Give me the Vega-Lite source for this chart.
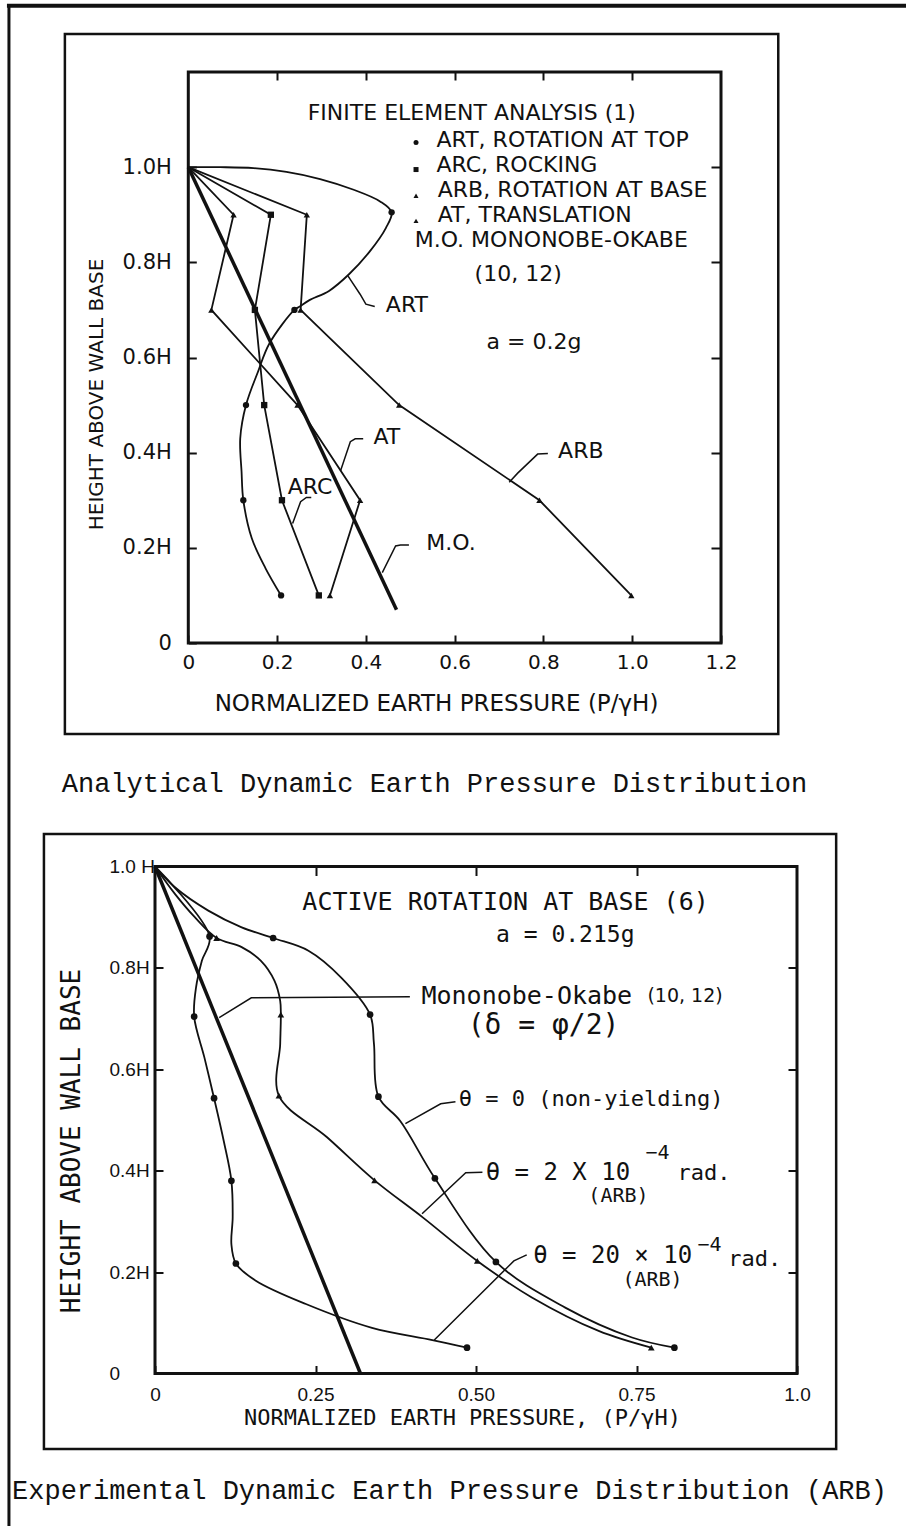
{
 "$schema": "https://vega.github.io/schema/vega-lite/v6.json",
 "background": "white",
 "padding": {"left": 6, "top": 3, "right": 0, "bottom": 0},
 "spacing": 223.5,
 "bounds": "flush",
 "resolve": {"scale": {"shape": "independent"}},
 "config": {
  "view": {"stroke": null},
  "font": "DejaVu Sans",
  "axis": {"grid": false, "domain": false, "tickColor": "#111", "tickWidth": 2, "labelColor": "#111", "titleColor": "#111", "titleFontWeight": "normal", "labelFlush": false, "labelOverlap": false, "labelBound": false}
 },
 "datasets": {
  "t_frametop": [{"x": -0.404, "x2": 1.619, "y": 1.339, "y2": 1.339}],
  "t_frameleft": [{"x": -0.404, "x2": -0.404, "y": 1.339, "y2": -1.866}],
  "t_outer": [{"x": -0.278, "x2": 1.329, "y": -0.191, "y2": 1.28}],
  "t_box": [{"x": 0, "x2": 1.2, "y": 0, "y2": 1.2}],
  "t_art": [
   {"s": "ART", "x": 0, "y": 1.0}, {"s": "ART", "x": 0.072, "y": 1.0}, {"s": "ART", "x": 0.147, "y": 0.998}, {"s": "ART", "x": 0.221, "y": 0.99},
   {"s": "ART", "x": 0.297, "y": 0.975}, {"s": "ART", "x": 0.371, "y": 0.953}, {"s": "ART", "x": 0.432, "y": 0.928}, {"s": "ART", "x": 0.458, "y": 0.905},
   {"s": "ART", "x": 0.445, "y": 0.872}, {"s": "ART", "x": 0.408, "y": 0.822}, {"s": "ART", "x": 0.362, "y": 0.775}, {"s": "ART", "x": 0.317, "y": 0.74},
   {"s": "ART", "x": 0.272, "y": 0.72}, {"s": "ART", "x": 0.251, "y": 0.707}, {"s": "ART", "x": 0.239, "y": 0.7}, {"s": "ART", "x": 0.183, "y": 0.63},
   {"s": "ART", "x": 0.157, "y": 0.57}, {"s": "ART", "x": 0.13, "y": 0.5}, {"s": "ART", "x": 0.117, "y": 0.43}, {"s": "ART", "x": 0.12, "y": 0.36},
   {"s": "ART", "x": 0.124, "y": 0.3}, {"s": "ART", "x": 0.143, "y": 0.22}, {"s": "ART", "x": 0.174, "y": 0.157}, {"s": "ART", "x": 0.209, "y": 0.1}
  ],
  "t_poly": [
   {"s": "ARC", "x": 0, "y": 1}, {"s": "ARC", "x": 0.186, "y": 0.9}, {"s": "ARC", "x": 0.15, "y": 0.7}, {"s": "ARC", "x": 0.171, "y": 0.5}, {"s": "ARC", "x": 0.211, "y": 0.3}, {"s": "ARC", "x": 0.294, "y": 0.1},
   {"s": "AT", "x": 0, "y": 1}, {"s": "AT", "x": 0.102, "y": 0.9}, {"s": "AT", "x": 0.052, "y": 0.7}, {"s": "AT", "x": 0.246, "y": 0.5}, {"s": "AT", "x": 0.387, "y": 0.3}, {"s": "AT", "x": 0.319, "y": 0.1},
   {"s": "ARB", "x": 0, "y": 1}, {"s": "ARB", "x": 0.267, "y": 0.9}, {"s": "ARB", "x": 0.253, "y": 0.7}, {"s": "ARB", "x": 0.475, "y": 0.5}, {"s": "ARB", "x": 0.791, "y": 0.3}, {"s": "ARB", "x": 0.998, "y": 0.1}
  ],
  "t_mo": [{"s": "M.O.", "x": 0, "y": 1}, {"s": "M.O.", "x": 0.469, "y": 0.07}],
  "t_marks": [
   {"s": "ART", "x": 0.458, "y": 0.905}, {"s": "ART", "x": 0.239, "y": 0.7}, {"s": "ART", "x": 0.13, "y": 0.5}, {"s": "ART", "x": 0.124, "y": 0.3}, {"s": "ART", "x": 0.209, "y": 0.1},
   {"s": "ARC", "x": 0.186, "y": 0.9}, {"s": "ARC", "x": 0.15, "y": 0.7}, {"s": "ARC", "x": 0.171, "y": 0.5}, {"s": "ARC", "x": 0.211, "y": 0.3}, {"s": "ARC", "x": 0.294, "y": 0.1},
   {"s": "AT", "x": 0.102, "y": 0.9}, {"s": "AT", "x": 0.052, "y": 0.7}, {"s": "AT", "x": 0.246, "y": 0.5}, {"s": "AT", "x": 0.387, "y": 0.3}, {"s": "AT", "x": 0.319, "y": 0.1},
   {"s": "ARB", "x": 0.267, "y": 0.9}, {"s": "ARB", "x": 0.253, "y": 0.7}, {"s": "ARB", "x": 0.475, "y": 0.5}, {"s": "ARB", "x": 0.791, "y": 0.3}, {"s": "ARB", "x": 0.998, "y": 0.1}
  ],
  "t_legmarks": [{"s": "ART", "x": 0.513, "y": 1.052}, {"s": "ARC", "x": 0.513, "y": 0.995}, {"s": "ARB", "x": 0.513, "y": 0.94}, {"s": "AT", "x": 0.513, "y": 0.887}],
  "t_lead": [
   {"g": "ART", "x": 0.36, "y": 0.771}, {"g": "ART", "x": 0.387, "y": 0.733}, {"g": "ART", "x": 0.4, "y": 0.712}, {"g": "ART", "x": 0.42, "y": 0.707},
   {"g": "AT", "x": 0.343, "y": 0.362}, {"g": "AT", "x": 0.365, "y": 0.423}, {"g": "AT", "x": 0.376, "y": 0.429}, {"g": "AT", "x": 0.394, "y": 0.429},
   {"g": "ARC", "x": 0.235, "y": 0.251}, {"g": "ARC", "x": 0.253, "y": 0.297}, {"g": "ARC", "x": 0.266, "y": 0.306}, {"g": "ARC", "x": 0.277, "y": 0.306},
   {"g": "MO", "x": 0.437, "y": 0.148}, {"g": "MO", "x": 0.467, "y": 0.204}, {"g": "MO", "x": 0.478, "y": 0.206}, {"g": "MO", "x": 0.497, "y": 0.206},
   {"g": "ARB", "x": 0.723, "y": 0.338}, {"g": "ARB", "x": 0.742, "y": 0.357}, {"g": "ARB", "x": 0.787, "y": 0.397}, {"g": "ARB", "x": 0.81, "y": 0.398}
  ],
  "t_text": [
   {"x": 0.269, "y": 1.113, "t": "FINITE ELEMENT ANALYSIS (1)"},
   {"x": 0.559, "y": 1.058, "t": "ART, ROTATION AT TOP"},
   {"x": 0.559, "y": 1.005, "t": "ARC, ROCKING"},
   {"x": 0.562, "y": 0.951, "t": "ARB, ROTATION AT BASE"},
   {"x": 0.562, "y": 0.899, "t": "AT,  TRANSLATION"},
   {"x": 0.51, "y": 0.846, "t": "M.O. MONONOBE-OKABE"},
   {"x": 0.645, "y": 0.775, "t": "(10, 12)"},
   {"x": 0.672, "y": 0.633, "t": "a = 0.2g"},
   {"x": 0.445, "y": 0.711, "t": "ART"},
   {"x": 0.417, "y": 0.433, "t": "AT"},
   {"x": 0.224, "y": 0.328, "t": "ARC"},
   {"x": 0.536, "y": 0.211, "t": "M.O."},
   {"x": 0.833, "y": 0.404, "t": "ARB"}
  ],
  "t_caption": [{"x": -0.285, "y": -0.296, "t": "Analytical Dynamic Earth Pressure Distribution"}],
  "b_outer": [{"x": -0.173, "x2": 1.061, "y": -0.149, "y2": 1.064}],
  "b_box": [{"x": 0, "x2": 1, "y": 0, "y2": 1}],
  "b_curves": [
   {"s": "T0", "x": 0, "y": 1}, {"s": "T0", "x": 0.031, "y": 0.959}, {"s": "T0", "x": 0.083, "y": 0.913}, {"s": "T0", "x": 0.135, "y": 0.88}, {"s": "T0", "x": 0.184, "y": 0.859},
   {"s": "T0", "x": 0.239, "y": 0.834}, {"s": "T0", "x": 0.29, "y": 0.781}, {"s": "T0", "x": 0.335, "y": 0.708}, {"s": "T0", "x": 0.341, "y": 0.651}, {"s": "T0", "x": 0.348, "y": 0.546},
   {"s": "T0", "x": 0.382, "y": 0.498}, {"s": "T0", "x": 0.436, "y": 0.385}, {"s": "T0", "x": 0.531, "y": 0.22}, {"s": "T0", "x": 0.639, "y": 0.13}, {"s": "T0", "x": 0.743, "y": 0.071}, {"s": "T0", "x": 0.809, "y": 0.051},
   {"s": "T2", "x": 0, "y": 1}, {"s": "T2", "x": 0.031, "y": 0.946}, {"s": "T2", "x": 0.062, "y": 0.9}, {"s": "T2", "x": 0.096, "y": 0.859}, {"s": "T2", "x": 0.135, "y": 0.841},
   {"s": "T2", "x": 0.165, "y": 0.814}, {"s": "T2", "x": 0.186, "y": 0.775}, {"s": "T2", "x": 0.195, "y": 0.735}, {"s": "T2", "x": 0.196, "y": 0.708}, {"s": "T2", "x": 0.195, "y": 0.65},
   {"s": "T2", "x": 0.193, "y": 0.548}, {"s": "T2", "x": 0.268, "y": 0.466}, {"s": "T2", "x": 0.342, "y": 0.381}, {"s": "T2", "x": 0.417, "y": 0.308}, {"s": "T2", "x": 0.502, "y": 0.222},
   {"s": "T2", "x": 0.587, "y": 0.15}, {"s": "T2", "x": 0.691, "y": 0.084}, {"s": "T2", "x": 0.773, "y": 0.051},
   {"s": "T20", "x": 0, "y": 1}, {"s": "T20", "x": 0.085, "y": 0.862}, {"s": "T20", "x": 0.073, "y": 0.814}, {"s": "T20", "x": 0.064, "y": 0.762}, {"s": "T20", "x": 0.061, "y": 0.704},
   {"s": "T20", "x": 0.077, "y": 0.623}, {"s": "T20", "x": 0.092, "y": 0.543}, {"s": "T20", "x": 0.107, "y": 0.459}, {"s": "T20", "x": 0.119, "y": 0.38}, {"s": "T20", "x": 0.121, "y": 0.308},
   {"s": "T20", "x": 0.119, "y": 0.255}, {"s": "T20", "x": 0.126, "y": 0.217}, {"s": "T20", "x": 0.157, "y": 0.183}, {"s": "T20", "x": 0.235, "y": 0.137}, {"s": "T20", "x": 0.338, "y": 0.09},
   {"s": "T20", "x": 0.432, "y": 0.066}, {"s": "T20", "x": 0.486, "y": 0.051}
  ],
  "b_mo": [{"s": "MO", "x": 0, "y": 1}, {"s": "MO", "x": 0.32, "y": 0}],
  "b_marks": [
   {"s": "T0", "x": 0.184, "y": 0.859}, {"s": "T0", "x": 0.335, "y": 0.708}, {"s": "T0", "x": 0.348, "y": 0.546}, {"s": "T0", "x": 0.436, "y": 0.385}, {"s": "T0", "x": 0.531, "y": 0.22}, {"s": "T0", "x": 0.809, "y": 0.051},
   {"s": "T2", "x": 0.096, "y": 0.859}, {"s": "T2", "x": 0.196, "y": 0.708}, {"s": "T2", "x": 0.193, "y": 0.548}, {"s": "T2", "x": 0.342, "y": 0.381}, {"s": "T2", "x": 0.502, "y": 0.222}, {"s": "T2", "x": 0.773, "y": 0.051},
   {"s": "T20", "x": 0.085, "y": 0.862}, {"s": "T20", "x": 0.061, "y": 0.704}, {"s": "T20", "x": 0.092, "y": 0.543}, {"s": "T20", "x": 0.119, "y": 0.38}, {"s": "T20", "x": 0.126, "y": 0.217}, {"s": "T20", "x": 0.486, "y": 0.051}
  ],
  "b_lead": [
   {"g": "MO", "x": 0.1, "y": 0.702}, {"g": "MO", "x": 0.15, "y": 0.741}, {"g": "MO", "x": 0.397, "y": 0.743},
   {"g": "T0", "x": 0.39, "y": 0.493}, {"g": "T0", "x": 0.445, "y": 0.532}, {"g": "T0", "x": 0.468, "y": 0.536},
   {"g": "T2", "x": 0.416, "y": 0.315}, {"g": "T2", "x": 0.484, "y": 0.396}, {"g": "T2", "x": 0.51, "y": 0.397},
   {"g": "T20", "x": 0.435, "y": 0.066}, {"g": "T20", "x": 0.559, "y": 0.222}, {"g": "T20", "x": 0.579, "y": 0.234}
  ],
  "b_center25": [{"x": 0.546, "y": 0.929, "t": "ACTIVE ROTATION AT BASE (6)"}],
  "b_center23": [{"x": 0.639, "y": 0.864, "t": "a = 0.215g"}],
  "b_mono25": [{"x": 0.415, "y": 0.745, "t": "Mononobe-Okabe"}],
  "b_sans19": [{"x": 0.767, "y": 0.745, "t": "(10, 12)"}],
  "b_delta": [{"x": 0.487, "y": 0.686, "t": "(δ = φ/2)"}],
  "b_mono22": [
   {"x": 0.473, "y": 0.542, "t": "θ = 0 (non-yielding)"},
   {"x": 0.814, "y": 0.396, "t": "rad."},
   {"x": 0.893, "y": 0.226, "t": "rad."}
  ],
  "b_mono20": [
   {"x": 0.675, "y": 0.35, "t": "(ARB)"},
   {"x": 0.728, "y": 0.185, "t": "(ARB)"}
  ],
  "b_mono24": [{"x": 0.515, "y": 0.396, "t": "θ = 2 X 10"}, {"x": 0.589, "y": 0.232, "t": "θ = 20 × 10"}],
  "b_sup": [{"x": 0.764, "y": 0.435, "t": "−4"}, {"x": 0.845, "y": 0.254, "t": "−4"}],
  "b_caption": [{"x": -0.2227, "y": -0.232, "t": "Experimental Dynamic Earth Pressure Distribution (ARB)"}]
 },
 "vconcat": [
  {
   "width": 566,
   "height": 571,
   "encoding": {
    "x": {"field": "x", "type": "quantitative", "scale": {"domain": [-0.075, 1.2], "nice": false, "zero": false}, "axis": null},
    "y": {"field": "y", "type": "quantitative", "scale": {"domain": [0, 1.2], "nice": false, "zero": false}, "axis": null}
   },
   "layer": [
    {"data": {"name": "t_frametop"}, "mark": {"type": "rule", "color": "#111", "strokeWidth": 4, "strokeCap": "square"}, "encoding": {"x2": {"field": "x2"}, "y2": {"field": "y2"}}},
    {"data": {"name": "t_frameleft"}, "mark": {"type": "rule", "color": "#111", "strokeWidth": 3, "strokeCap": "square"}, "encoding": {"x2": {"field": "x2"}, "y2": {"field": "y2"}}},
    {"data": {"name": "t_outer"}, "mark": {"type": "rect", "fill": "transparent", "stroke": "#111", "strokeWidth": 2.5}, "encoding": {"x2": {"field": "x2"}, "y2": {"field": "y2"}}},
    {"data": {"name": "t_box"}, "mark": {"type": "rect", "fill": "transparent", "stroke": "#111", "strokeWidth": 3},
     "encoding": {
      "x": {"field": "x", "type": "quantitative", "scale": {"domain": [-0.075, 1.2], "nice": false, "zero": false},
       "axis": {"orient": "bottom", "values": [0, 0.2, 0.4, 0.6, 0.8, 1.0, 1.2], "labelExpr": "datum.value == 0 ? '0' : format(datum.value, '.1f')", "tickSize": -8, "labelFont": "DejaVu Sans", "labelFontSize": 20, "labelPadding": 17,
        "title": "NORMALIZED EARTH PRESSURE (P/γH)", "titleFont": "DejaVu Sans", "titleFontSize": 23, "titleX": 281, "titleY": 60, "titleBaseline": "middle", "titleAlign": "center"}},
      "y": {"field": "y", "type": "quantitative", "scale": {"domain": [0, 1.2], "nice": false, "zero": false},
       "axis": {"orient": "left", "offset": -33.3, "values": [0, 0.2, 0.4, 0.6, 0.8, 1.0], "labelExpr": "datum.value == 0 ? '0' : format(datum.value, '.1f') + 'H'", "tickSize": -8, "labelFont": "DejaVu Sans", "labelFontSize": 21, "labelPadding": 25,
        "title": "HEIGHT ABOVE WALL BASE", "titleFont": "DejaVu Sans", "titleFontSize": 20, "titleX": -92, "titleY": 322, "titleAngle": 270, "titleBaseline": "middle", "titleAlign": "center"}},
      "x2": {"field": "x2"}, "y2": {"field": "y2"}
     }},
    {"data": {"name": "t_box"}, "mark": {"type": "rect", "fill": "transparent", "opacity": 0},
     "encoding": {
      "x": {"field": "x", "type": "quantitative", "scale": {"domain": [-0.075, 1.2], "nice": false, "zero": false},
       "axis": {"orient": "top", "values": [0.2, 0.4, 0.6, 0.8, 1.0], "labels": false, "tickSize": -8, "title": null}},
      "y": {"field": "y", "type": "quantitative", "scale": {"domain": [0, 1.2], "nice": false, "zero": false},
       "axis": {"orient": "right", "values": [0.2, 0.4, 0.6, 0.8, 1.0], "labels": false, "tickSize": -10, "title": null}},
      "x2": {"field": "x2"}, "y2": {"field": "y2"}
     }},
    {"data": {"name": "t_mo"}, "mark": {"type": "line", "color": "#111", "strokeWidth": 3.5}, "encoding": {"order": {"value": null}}},
    {"data": {"name": "t_poly"}, "mark": {"type": "line", "color": "#111", "strokeWidth": 1.8}, "encoding": {"detail": {"field": "s"}, "order": {"value": null}}},
    {"data": {"name": "t_art"}, "mark": {"type": "line", "color": "#111", "strokeWidth": 1.8, "interpolate": "catmull-rom"}, "encoding": {"detail": {"field": "s"}, "order": {"value": null}}},
    {"data": {"name": "t_lead"}, "mark": {"type": "line", "color": "#111", "strokeWidth": 1.5}, "encoding": {"detail": {"field": "g"}, "order": {"value": null}}},
    {"data": {"name": "t_marks"}, "mark": {"type": "point", "filled": true, "color": "#111", "opacity": 1, "size": 40},
     "encoding": {"shape": {"field": "s", "type": "nominal", "scale": {"domain": ["ART", "ARC", "ARB", "AT"], "range": ["circle", "square", "triangle-up", "triangle-up"]}, "legend": null}}},
    {"data": {"name": "t_legmarks"}, "mark": {"type": "point", "filled": true, "color": "#111", "opacity": 1, "size": 25},
     "encoding": {"shape": {"field": "s", "type": "nominal", "scale": {"domain": ["ART", "ARC", "ARB", "AT"], "range": ["circle", "square", "triangle-up", "triangle-up"]}, "legend": null}}},
    {"data": {"name": "t_text"}, "mark": {"type": "text", "align": "left", "baseline": "middle", "font": "DejaVu Sans", "fontSize": 22, "color": "#111"}, "encoding": {"text": {"field": "t"}}},
    {"data": {"name": "t_caption"}, "mark": {"type": "text", "align": "left", "baseline": "middle", "font": "Liberation Mono", "fontSize": 27, "color": "#111"}, "encoding": {"text": {"field": "t"}}}
   ],
   "resolve": {"axis": {"x": "independent", "y": "independent"}}
  },
  {
   "width": 642,
   "height": 507,
   "encoding": {
    "x": {"field": "x", "type": "quantitative", "scale": {"domain": [0, 1], "nice": false, "zero": false}, "axis": null},
    "y": {"field": "y", "type": "quantitative", "scale": {"domain": [0, 1], "nice": false, "zero": false}, "axis": null}
   },
   "layer": [
    {"data": {"name": "b_outer"}, "mark": {"type": "rect", "fill": "transparent", "stroke": "#111", "strokeWidth": 2.5}, "encoding": {"x2": {"field": "x2"}, "y2": {"field": "y2"}}},
    {"data": {"name": "b_box"}, "mark": {"type": "rect", "fill": "transparent", "stroke": "#111", "strokeWidth": 3},
     "encoding": {
      "x": {"field": "x", "type": "quantitative", "scale": {"domain": [0, 1], "nice": false, "zero": false},
       "axis": {"orient": "bottom", "values": [0, 0.25, 0.5, 0.75, 1.0], "labelExpr": "datum.value == 0 ? '0' : datum.value == 1 ? '1.0' : format(datum.value, '.2f')", "tickSize": -8, "labelFont": "Liberation Sans", "labelFontSize": 19, "labelPadding": 20,
        "title": "NORMALIZED EARTH PRESSURE, (P/γH)", "titleFont": "DejaVu Sans Mono", "titleFontSize": 22, "titleX": 307, "titleY": 44, "titleBaseline": "middle", "titleAlign": "center"}},
      "y": {"field": "y", "type": "quantitative", "scale": {"domain": [0, 1], "nice": false, "zero": false},
       "axis": {"orient": "left", "values": [0, 0.2, 0.4, 0.6, 0.8, 1.0], "labelExpr": "datum.value == 0 ? '0' : datum.value == 1 ? '1.0 H' : format(datum.value, '.1f') + 'H'", "tickSize": -8, "labelFont": "Liberation Sans", "labelFontSize": 19, "labelPadding": 54, "labelAlign": "left",
        "title": "HEIGHT ABOVE WALL BASE", "titleFont": "DejaVu Sans Mono", "titleFontSize": 26, "titleX": -84, "titleY": 274, "titleAngle": 270, "titleBaseline": "middle", "titleAlign": "center"}},
      "x2": {"field": "x2"}, "y2": {"field": "y2"}
     }},
    {"data": {"name": "b_box"}, "mark": {"type": "rect", "fill": "transparent", "opacity": 0},
     "encoding": {
      "x": {"field": "x", "type": "quantitative", "scale": {"domain": [0, 1], "nice": false, "zero": false},
       "axis": {"orient": "top", "values": [0.25, 0.5, 0.75], "labels": false, "tickSize": -9, "title": null}},
      "y": {"field": "y", "type": "quantitative", "scale": {"domain": [0, 1], "nice": false, "zero": false},
       "axis": {"orient": "right", "values": [0.2, 0.4, 0.6, 0.8], "labels": false, "tickSize": -9, "title": null}},
      "x2": {"field": "x2"}, "y2": {"field": "y2"}
     }},
    {"data": {"name": "b_mo"}, "mark": {"type": "line", "color": "#111", "strokeWidth": 3.5}, "encoding": {"order": {"value": null}}},
    {"data": {"name": "b_curves"}, "mark": {"type": "line", "color": "#111", "strokeWidth": 1.8, "interpolate": "catmull-rom"}, "encoding": {"detail": {"field": "s"}, "order": {"value": null}}},
    {"data": {"name": "b_lead"}, "mark": {"type": "line", "color": "#111", "strokeWidth": 1.5}, "encoding": {"detail": {"field": "g"}, "order": {"value": null}}},
    {"data": {"name": "b_marks"}, "mark": {"type": "point", "filled": true, "color": "#111", "opacity": 1, "size": 45},
     "encoding": {"shape": {"field": "s", "type": "nominal", "scale": {"domain": ["T0", "T2", "T20"], "range": ["circle", "triangle-up", "circle"]}, "legend": null}}},
    {"data": {"name": "b_center25"}, "mark": {"type": "text", "align": "center", "baseline": "middle", "font": "DejaVu Sans Mono", "fontSize": 25, "color": "#111"}, "encoding": {"text": {"field": "t"}}},
    {"data": {"name": "b_center23"}, "mark": {"type": "text", "align": "center", "baseline": "middle", "font": "DejaVu Sans Mono", "fontSize": 23, "color": "#111"}, "encoding": {"text": {"field": "t"}}},
    {"data": {"name": "b_mono25"}, "mark": {"type": "text", "align": "left", "baseline": "middle", "font": "DejaVu Sans Mono", "fontSize": 25, "color": "#111"}, "encoding": {"text": {"field": "t"}}},
    {"data": {"name": "b_sans19"}, "mark": {"type": "text", "align": "left", "baseline": "middle", "font": "DejaVu Sans", "fontSize": 19, "color": "#111"}, "encoding": {"text": {"field": "t"}}},
    {"data": {"name": "b_delta"}, "mark": {"type": "text", "align": "left", "baseline": "middle", "font": "DejaVu Sans Mono", "fontSize": 28, "color": "#111"}, "encoding": {"text": {"field": "t"}}},
    {"data": {"name": "b_mono22"}, "mark": {"type": "text", "align": "left", "baseline": "middle", "font": "DejaVu Sans Mono", "fontSize": 22, "color": "#111"}, "encoding": {"text": {"field": "t"}}},
    {"data": {"name": "b_mono20"}, "mark": {"type": "text", "align": "left", "baseline": "middle", "font": "DejaVu Sans Mono", "fontSize": 20, "color": "#111"}, "encoding": {"text": {"field": "t"}}},
    {"data": {"name": "b_mono24"}, "mark": {"type": "text", "align": "left", "baseline": "middle", "font": "DejaVu Sans Mono", "fontSize": 24, "color": "#111"}, "encoding": {"text": {"field": "t"}}},
    {"data": {"name": "b_sup"}, "mark": {"type": "text", "align": "left", "baseline": "middle", "font": "DejaVu Sans Mono", "fontSize": 20, "color": "#111"}, "encoding": {"text": {"field": "t"}}},
    {"data": {"name": "b_caption"}, "mark": {"type": "text", "align": "left", "baseline": "middle", "font": "Liberation Mono", "fontSize": 27, "color": "#111"}, "encoding": {"text": {"field": "t"}}}
   ],
   "resolve": {"axis": {"x": "independent", "y": "independent"}}
  }
 ]
}
